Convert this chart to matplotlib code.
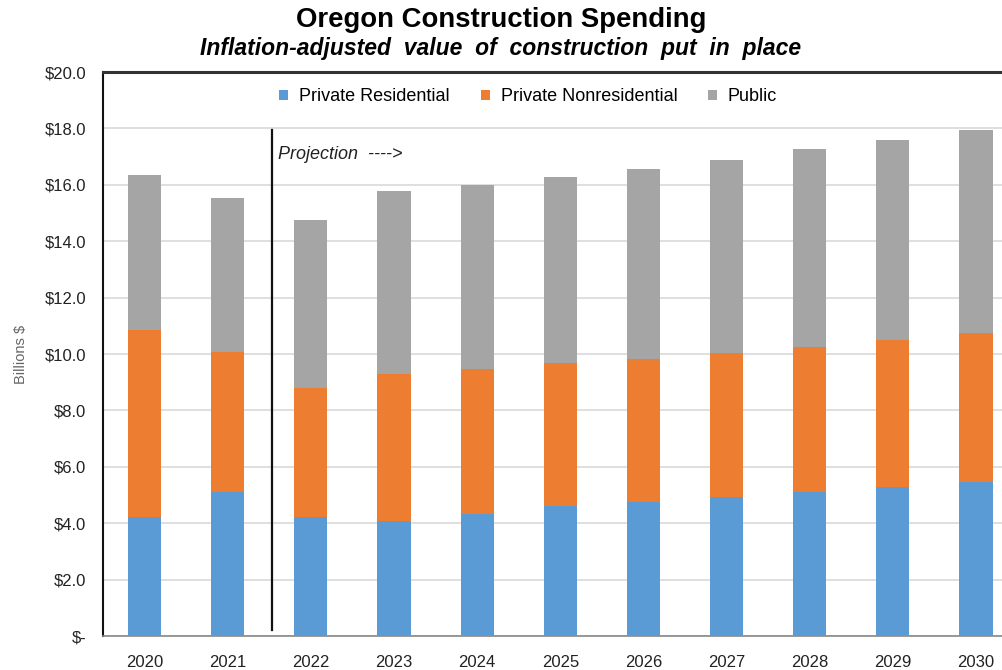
import matplotlib
matplotlib.use("Agg")
import matplotlib.pyplot as plt
import numpy as np

plt.rcParams['font.family'] = ['Liberation Sans', 'DejaVu Sans']

years = ['2020', '2021', '2022', '2023', '2024', '2025', '2026', '2027', '2028', '2029', '2030']
# segment values (billions $)
private_residential = [4.22, 5.10, 4.22, 4.08, 4.33, 4.61, 4.75, 4.93, 5.10, 5.28, 5.46]
private_nonresidential = [6.63, 4.97, 4.58, 5.21, 5.14, 5.07, 5.07, 5.11, 5.15, 5.22, 5.28]
public = [5.50, 5.46, 5.95, 6.49, 6.52, 6.60, 6.74, 6.84, 7.02, 7.09, 7.20]
yticks = [0, 2, 4, 6, 8, 10, 12, 14, 16, 18, 20]
ytick_labels = ['$-', '$2.0', '$4.0', '$6.0', '$8.0', '$10.0', '$12.0', '$14.0', '$16.0', '$18.0', '$20.0']

c_blue = '#5B9BD5'
c_orange = '#ED7D31'
c_gray = '#A5A5A5'

fig = plt.figure(figsize=(10.02, 6.70), dpi=100)
ax = fig.add_axes([0.1028, 0.0507, 0.9127, 0.8418])

x = np.arange(len(years))
w = 0.40
pr = np.array(private_residential)
pn = np.array(private_nonresidential)
pu = np.array(public)
ax.bar(x, pr, w, color=c_blue, label='Private Residential', zorder=3)
ax.bar(x, pn, w, bottom=pr, color=c_orange, label='Private Nonresidential', zorder=3)
ax.bar(x, pu, w, bottom=pr + pn, color=c_gray, label='Public', zorder=3)

ax.set_xlim(-0.5, len(years) - 0.5)
ax.set_ylim(0, 20)
ax.set_yticks(yticks)
ax.set_yticklabels(ytick_labels, fontsize=12, color='#222222')
ax.set_xticks(x)
ax.set_xticklabels(years, fontsize=12, color='#222222')
ax.tick_params(axis='x', length=0, pad=14)
ax.tick_params(axis='y', length=0, pad=12)

ax.yaxis.grid(True, color='#D9D9D9', linewidth=1.2, zorder=0)
ax.set_axisbelow(True)

ax.spines['top'].set_linewidth(2.2)
ax.spines['top'].set_color('#333333')
ax.spines['left'].set_linewidth(1.5)
ax.spines['left'].set_color('#111111')
ax.spines['bottom'].set_color('#888888')
ax.spines['bottom'].set_linewidth(1.2)
ax.spines['right'].set_visible(False)

# projection divider
ax.plot([1.53, 1.53], [0.2, 17.95], color='#111111', linewidth=1.6, zorder=4)
ax.text(1.6, 17.08, 'Projection  ---->', fontsize=13, style='italic', color='#222222', va='center', ha='left')

ax.set_ylabel('Billions $', fontsize=10.5, color='#666666', labelpad=12)

leg = ax.legend(loc='upper center', bbox_to_anchor=(0.465, 1.0), ncol=3, frameon=False,
                fontsize=13, handlelength=0.5, handleheight=0.5, columnspacing=1.7, handletextpad=0.6)

fig.text(0.5, 0.959, 'Oregon Construction Spending', ha='center', va='baseline',
         fontsize=19.8, fontweight='bold')
fig.text(0.5, 0.918, 'Inflation-adjusted  value  of  construction  put  in  place', ha='center', va='baseline',
         fontsize=16.5, fontweight='bold', style='italic')

fig.savefig('out.png', dpi=100)
